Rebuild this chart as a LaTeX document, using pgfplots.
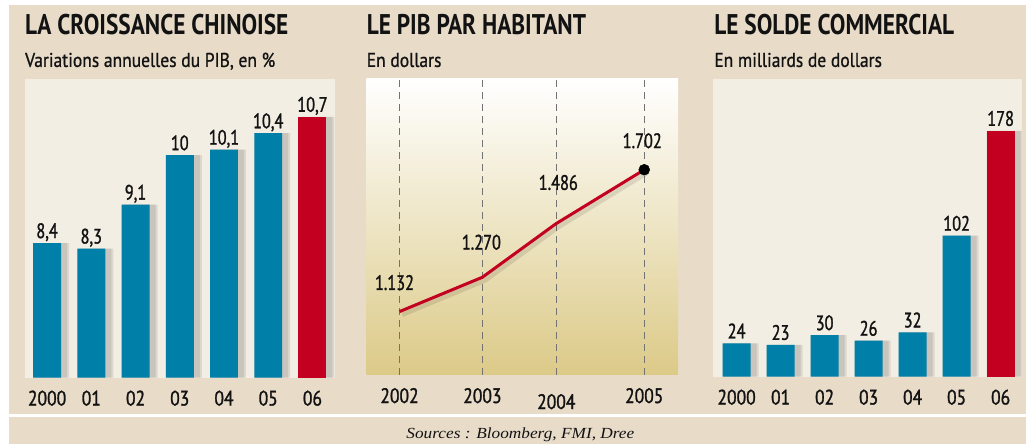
\documentclass[border=0pt]{standalone}
\usepackage{pgfplots}
\pgfplotsset{compat=1.18}
\usepackage{fontspec}
\setmainfont{PT Sans}
\newfontfamily\titlef[FakeStretch=0.82]{PT Sans}
\newfontfamily\subf[FakeStretch=0.88, FakeBold=0.8]{PT Sans}
\newfontfamily\valf[FakeStretch=0.78, FakeBold=1.3]{PT Sans}
\newfontfamily\tickf[FakeStretch=0.84, FakeBold=1.3]{PT Sans}
\newfontfamily\srcf[FakeStretch=1.12]{Liberation Serif}
\definecolor{bgC}{HTML}{E8DCC9}
\definecolor{panelC}{HTML}{F3EEE4}
\definecolor{tanC}{HTML}{DCCA88}
\definecolor{blueC}{HTML}{0080A8}
\definecolor{redC}{HTML}{C3001F}
\definecolor{txtC}{HTML}{121212}

\pgfplotsset{
  panel/.style={
    anchor=south west, scale only axis,
    axis line style={draw=none},
    major tick length=0pt,
    ytick=\empty,
    xticklabel style={font=\tickf\fontsize{21}{21}\selectfont, text=txtC, anchor=base, inner sep=0pt, yshift=-28bp},
  },
  barval/.style={
    nodes near coords={\pgfplotspointmeta},
    point meta=explicit symbolic,
    every node near coord/.append style={font=\valf\fontsize{21}{21}\selectfont, text=txtC, anchor=base, inner sep=0pt, yshift=5bp},
  },
  mybar/.style={ybar, bar width=28bp, bar shift=0pt, draw=none},
  shadowbar/.style={ybar, bar shift=4bp, draw=none, fill=black, fill opacity=0.09, forget plot},
}

\begin{document}
\begin{tikzpicture}
\fill[white] (0,0) rectangle (1027bp,445bp);
\fill[bgC] (9bp,0) rectangle (1027bp,440bp);
\draw[white, line width=2.5bp] (9bp,29bp) -- (1027bp,29bp);

% titles
\node[anchor=base west, inner sep=0, text=txtC] at (25bp,410bp) {\titlef\bfseries\fontsize{28.6}{28.6}\selectfont LA CROISSANCE CHINOISE};
\node[anchor=base west, inner sep=0, text=txtC] at (25bp,378bp) {\subf\fontsize{20}{20}\selectfont Variations annuelles du PIB, en \%};
\node[anchor=base west, inner sep=0, text=txtC] at (367bp,410bp) {\titlef\bfseries\fontsize{28.6}{28.6}\selectfont LE PIB PAR HABITANT};
\node[anchor=base west, inner sep=0, text=txtC] at (367bp,378bp) {\subf\fontsize{20}{20}\selectfont En dollars};
\node[anchor=base west, inner sep=0, text=txtC] at (715bp,410bp) {\titlef\bfseries\fontsize{28.6}{28.6}\selectfont LE SOLDE COMMERCIAL};
\node[anchor=base west, inner sep=0, text=txtC] at (715bp,378bp) {\subf\fontsize{20}{20}\selectfont En milliards de dollars};
\node[anchor=center, inner sep=0, text=txtC] at (521bp,10bp) {\srcf\itshape\fontsize{15.5}{15.5}\selectfont Sources : Bloomberg, FMI, Dree};

% Panel 1 : croissance
\pgfplotstableread{
x y lab
0 8.4 8,4
1 8.3 8,3
2 9.1 9,1
3 10 10
4 10.1 10,1
5 10.4 10,4
6 10.7 10,7
}\croissance
\begin{axis}[panel, at={(25bp,67bp)}, width=310bp, height=299bp,
  xmin=-0.5, xmax=6.5, ymin=5.95, ymax=11.39,
  axis background/.style={fill=panelC},
  xtick={0,1,2,3,4,5,6}, xticklabels={2000,01,02,03,04,05,06}]
\addplot[shadowbar, bar width=36bp] table[x=x,y=y] {\croissance};
\addplot[shadowbar, bar width=32bp] table[x=x,y=y] {\croissance};
\addplot[mybar, fill=blueC, barval, x filter/.expression={x>5.5 ? nan : x}] table[x=x,y=y,meta=lab] {\croissance};
\addplot[mybar, fill=redC, barval, x filter/.expression={x<5.5 ? nan : x}] table[x=x,y=y,meta=lab] {\croissance};
\end{axis}

% Panel 2 : PIB par habitant
\begin{axis}[panel, at={(367bp,70bp)}, width=312bp, height=296bp,
  xmin=-0.404, xmax=3.416, ymin=879, ymax=2067,
  axis background/.style={shade, top color=white, middle color=tanC!45!white, bottom color=tanC},
  xticklabel style={yshift=-0.5bp},
  xtick={0,1.016,1.922,3}, xticklabels={2002,2003,\raisebox{-6bp}{2004},2005},
  xmajorgrids, major grid style={black!55, dash pattern=on 7bp off 5bp, line width=0.9bp},
  clip=false]
\addplot[black, opacity=0.10, line width=6bp, no marks, forget plot] table[x=x,y=y] {
x y
0.03 1122
1.046 1260
1.952 1476
3.03 1692
};
\addplot[redC, line width=3bp, no marks,
  nodes near coords={\pgfplotspointmeta}, point meta=explicit symbolic,
  visualization depends on={value \thisrow{dx}\as\dx},
  visualization depends on={value \thisrow{dy}\as\dy},
  every node near coord/.append style={font=\valf\fontsize{21}{21}\selectfont, text=txtC, anchor=center, inner sep=0pt, xshift=\dx bp, yshift=\dy bp}]
table[x=x,y=y,meta=lab] {
x y lab dx dy
0 1132 1.132 -5 29
1.016 1270 1.270 -1 35
1.922 1486 1.486 2 41
3 1702 1.702 -2 29
};
\addplot[only marks, mark=*, mark size=5.5bp, black, mark options={fill=black}] coordinates {(3,1702)};
\end{axis}

% Panel 3 : solde commercial
\pgfplotstableread{
x y lab
0 24 24
1 23 23
2 30 30
3 26 26
4 32 32
5 102 102
6 178 178
}\solde
\begin{axis}[panel, at={(714bp,68bp)}, width=309bp, height=298bp,
  xmin=-0.533, xmax=6.48, ymin=0, ymax=215.6,
  axis background/.style={fill=panelC},
  xtick={0,1,2,3,4,5,6}, xticklabels={2000,01,02,03,04,05,06}]
\addplot[shadowbar, bar width=36bp] table[x=x,y=y] {\solde};
\addplot[shadowbar, bar width=32bp] table[x=x,y=y] {\solde};
\addplot[mybar, fill=blueC, barval, x filter/.expression={x>5.5 ? nan : x}] table[x=x,y=y,meta=lab] {\solde};
\addplot[mybar, fill=redC, barval, x filter/.expression={x<5.5 ? nan : x}] table[x=x,y=y,meta=lab] {\solde};
\end{axis}
\end{tikzpicture}
\end{document}
